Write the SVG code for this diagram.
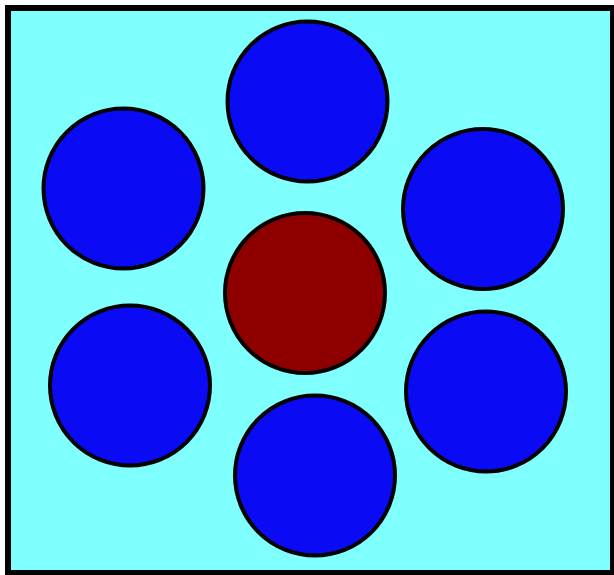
<svg xmlns="http://www.w3.org/2000/svg" width="614" height="575" viewBox="0 0 614 575">
<style>
.frame{fill:#80FFFF;stroke:#000;stroke-width:6}
.blue{fill:#0A0AF5;stroke:#000;stroke-width:4}
.red{fill:#8E0000;stroke:#000;stroke-width:4}
</style>
<rect width="614" height="575" fill="#fff"/>
<rect class="frame" x="8" y="8" width="605" height="565"/>
<g id="top"><circle class="blue" cx="307.5" cy="101.5" r="80"/></g>
<g id="upper-left"><circle class="blue" cx="123.5" cy="188.5" r="80"/></g>
<g id="upper-right"><circle class="blue" cx="483" cy="209" r="80"/></g>
<g id="center"><circle class="red" cx="305" cy="293" r="80"/></g>
<g id="lower-left"><circle class="blue" cx="130" cy="385.5" r="80"/></g>
<g id="lower-right"><circle class="blue" cx="486" cy="391.5" r="80"/></g>
<g id="bottom"><circle class="blue" cx="315" cy="475.5" r="80"/></g>
<g id="connectors"></g>
</svg>
